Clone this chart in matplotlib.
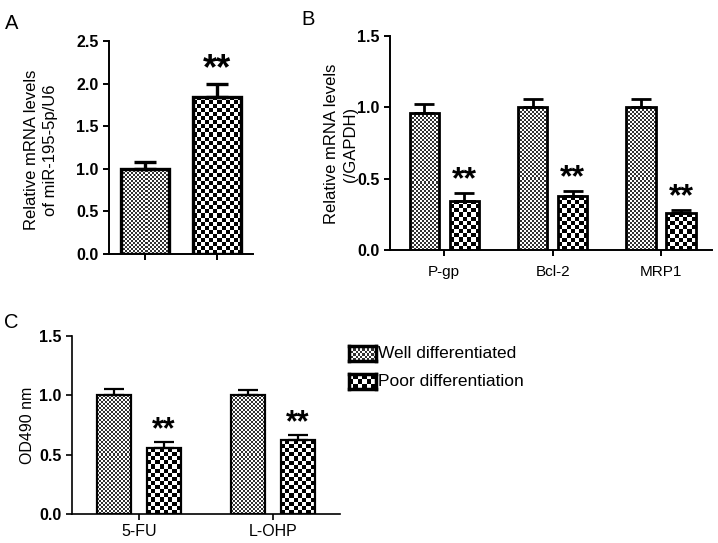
import numpy as np
import matplotlib
matplotlib.use('Agg')
from matplotlib import pyplot as plt
from matplotlib import font_manager
from matplotlib.colors import ListedColormap

# panel A: miR-195-5p
a_means = [1.00, 1.845]
a_errs = [0.08, 0.145]

# panel B: drug resistance genes
b_genes = ['P-gp', 'Bcl-2', 'MRP1']
b_well = [0.96, 1.00, 1.00]
b_well_err = [0.065, 0.06, 0.055]
b_poor = [0.345, 0.378, 0.257]
b_poor_err = [0.055, 0.037, 0.025]

# panel C: OD490
c_drugs = ['5-FU', 'L-OHP']
c_well = [1.00, 1.00]
c_well_err = [0.05, 0.045]
c_poor = [0.555, 0.62]
c_poor_err = [0.05, 0.045]
legend_labels = ['Well differentiated', 'Poor differentiation']

plt.rcParams['font.family'] = ['Liberation Sans', 'DejaVu Sans']
names = {f.name for f in font_manager.fontManager.ttflist}
NARROW = 'Liberation Sans Narrow' if 'Liberation Sans Narrow' in names else 'Liberation Sans'

W, H = 718, 543
fig = plt.figure(figsize=(W / 100, H / 100), dpi=100)


def px_axes(left, top, right, bottom):
    return fig.add_axes([left / W, 1 - bottom / H, (right - left) / W, (bottom - top) / H])


def fill_checker(ax, bars, cell, dark):
    cmap = ListedColormap(['white', dark])
    for p in bars:
        x0, y0 = p.get_x(), p.get_y()
        x1, y1 = x0 + p.get_width(), y0 + p.get_height()
        (px0, py0), (px1, py1) = ax.transData.transform([(x0, y0), (x1, y1)])
        nx = max(1, int(round((px1 - px0) / cell)))
        ny = max(1, int(round((py1 - py0) / cell)))
        board = np.indices((ny, nx)).sum(axis=0) % 2
        ax.imshow(board, cmap=cmap, extent=(x0, x1, y0, y1), aspect='auto',
                  interpolation='nearest', zorder=1)


def style_axes(ax, lw, fam, size):
    for s in ['top', 'right']:
        ax.spines[s].set_visible(False)
    for s in ['left', 'bottom']:
        ax.spines[s].set_linewidth(lw)
    ax.tick_params(width=lw, length=4, direction='out')
    for t in ax.get_yticklabels():
        t.set_fontweight('bold')
        t.set_family(fam)
        t.set_fontsize(size)


def draw_bars(ax, x, vals, errs, width, cell, dark, lw, cap):
    ax.errorbar(x, vals, yerr=[np.zeros(len(vals)), errs], fmt='none', ecolor='black',
                elinewidth=lw, capsize=cap, capthick=lw, zorder=2)
    bars = ax.bar(x, vals, width, facecolor='none', edgecolor='black', linewidth=lw, zorder=3)
    fill_checker(ax, bars, cell, dark)
    return bars


def stars(ax, x, tops, size, fam='Liberation Sans'):
    for xi, t in zip(x, tops):
        ax.annotate('**', (xi, t), xytext=(0, -2), textcoords='offset points',
                    ha='center', va='bottom', fontsize=size, fontweight='bold', family=fam)


WELL_DARK = '#333333'

# ---- A ----
axA = px_axes(109, 41, 253, 254)
axA.set_xlim(-0.5, 1.5)
axA.set_ylim(0, 2.5)
xa = np.arange(len(a_means))
draw_bars(axA, xa[:1], a_means[:1], a_errs[:1], 0.67, 2, WELL_DARK, 2.4, 8)
draw_bars(axA, xa[1:], a_means[1:], a_errs[1:], 0.67, 4, 'black', 2.4, 8)
stars(axA, xa[1:], np.array(a_means[1:]) + np.array(a_errs[1:]), 26)
axA.set_xticks(xa)
axA.set_xticklabels([])
axA.set_yticks(np.arange(0, 2.51, 0.5))
axA.set_yticklabels([f'{v:.1f}' for v in np.arange(0, 2.51, 0.5)])
axA.set_xlim(-0.5, 1.5)
axA.set_ylim(0, 2.5)
style_axes(axA, 1.4, 'Liberation Sans', 11.5)
fig.text(41 / W, 1 - 150 / H, 'Relative mRNA levels\nof miR-195-5p/U6', rotation=90,
         ha='center', va='center', multialignment='center', fontsize=12, linespacing=1.3)
fig.text(5 / W, 1 - 14 / H, 'A', fontsize=14.5, va='top', ha='left')

# ---- B ----
axB = px_axes(390, 36, 712, 250)
axB.set_xlim(-0.5, 2.47)
axB.set_ylim(0, 1.5)
xb = np.arange(len(b_genes))
off = 0.185
draw_bars(axB, xb - off, b_well, b_well_err, 0.27, 2, WELL_DARK, 2.0, 7)
draw_bars(axB, xb + off, b_poor, b_poor_err, 0.27, 4, 'black', 2.0, 7)
stars(axB, xb + off, np.array(b_poor) + np.array(b_poor_err), 23)
axB.set_xticks(xb)
axB.set_xticklabels(b_genes, fontsize=11)
axB.set_yticks(np.arange(0, 1.51, 0.5))
axB.set_yticklabels([f'{v:.1f}' for v in np.arange(0, 1.51, 0.5)])
axB.set_xlim(-0.5, 2.47)
axB.set_ylim(0, 1.5)
style_axes(axB, 1.4, 'Liberation Sans', 11.5)
axB.tick_params(axis='x', pad=7)
fig.text(341 / W, 1 - 144 / H, 'Relative mRNA levels\n(/GAPDH)', rotation=90,
         ha='center', va='center', multialignment='center', fontsize=12, linespacing=1.3)
fig.text(301 / W, 1 - 10 / H, 'B', fontsize=14.5, va='top', ha='left')

# ---- C ----
axC = px_axes(72, 336, 340, 514)
axC.set_xlim(-0.5, 1.5)
axC.set_ylim(0, 1.5)
xc = np.arange(len(c_drugs))
draw_bars(axC, xc - off, c_well, c_well_err, 0.25, 2, WELL_DARK, 1.6, 7)
draw_bars(axC, xc + off, c_poor, c_poor_err, 0.25, 4, 'black', 1.6, 7)
stars(axC, xc + off, np.array(c_poor) + np.array(c_poor_err), 22, NARROW)
axC.set_xticks(xc)
axC.set_xticklabels(c_drugs, fontsize=11.5, family=NARROW)
axC.set_yticks(np.arange(0, 1.51, 0.5))
axC.set_yticklabels([f'{v:.1f}' for v in np.arange(0, 1.51, 0.5)])
axC.set_xlim(-0.5, 1.5)
axC.set_ylim(0, 1.5)
style_axes(axC, 1.2, NARROW, 11.5)
fig.text(28 / W, 1 - 425 / H, 'OD490 nm', rotation=90, ha='center', va='center', fontsize=11.5)
fig.text(4 / W, 1 - 313 / H, 'C', fontsize=14.5, va='top', ha='left')

# legend boxes with the same textures
for i, (lab, cell, dark) in enumerate(zip(legend_labels, [2, 4], [WELL_DARK, 'black'])):
    top = 346 + i * 28
    lax = px_axes(349, top, 376, top + 15)
    board = np.indices((6, 12)).sum(axis=0) % 2 if cell == 2 else np.indices((3, 6)).sum(axis=0) % 2
    lax.imshow(board, cmap=ListedColormap(['white', dark]), aspect='auto', interpolation='nearest')
    lax.set_xticks([])
    lax.set_yticks([])
    for s in lax.spines.values():
        s.set_linewidth(2.5)
    fig.text(378 / W, 1 - (top + 7.5) / H, lab, family=NARROW, fontsize=12.5, va='center', ha='left')

fig.savefig('out.png', dpi=100)
